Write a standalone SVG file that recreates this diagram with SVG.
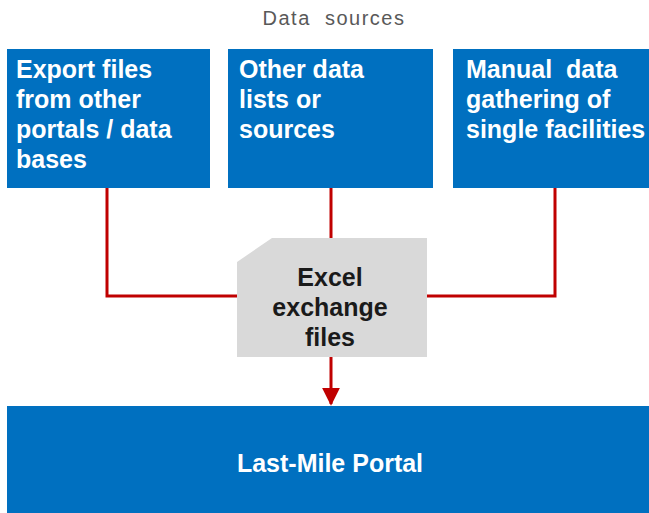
<svg xmlns="http://www.w3.org/2000/svg" width="649" height="513" viewBox="0 0 649 513">
  <style>
    text { white-space: pre; }
    .box { fill: #0070C0; }
    .src { font-family: "Liberation Sans", Arial, sans-serif; font-size: 25px; font-weight: bold; fill: #ffffff; }
    .hub { font-family: "Liberation Sans", Arial, sans-serif; font-size: 25px; font-weight: bold; fill: #1a1a1a; text-anchor: middle; }
    .title { font-family: "Liberation Sans", Arial, sans-serif; font-size: 20px; letter-spacing: 1.5px; fill: #595959; text-anchor: middle; }
    .link { fill: none; stroke: #C00000; stroke-width: 3; }
  </style>
  <defs>
    <marker id="arrow" viewBox="0 0 10 10" refX="9" refY="5" markerWidth="6" markerHeight="6" orient="auto" markerUnits="strokeWidth">
      <path d="M0,0 L10,5 L0,10 Z" fill="#C00000"/>
    </marker>
  </defs>

  <text class="title" x="334" y="25" xml:space="preserve">Data  sources</text>

  <g id="connectors">
    <polyline class="link" points="107,188 107,296 237,296"/>
    <line class="link" x1="331" y1="188" x2="331" y2="238"/>
    <polyline class="link" points="555,188 555,296 427,296"/>
    <line class="link" x1="331" y1="357" x2="331" y2="404" marker-end="url(#arrow)"/>
  </g>

  <g id="export-files">
    <rect class="box" x="7" y="49" width="203" height="139"/>
    <text class="src" x="16" y="78">Export files</text>
    <text class="src" x="16" y="108">from other</text>
    <text class="src" x="16" y="138">portals / data</text>
    <text class="src" x="16" y="168">bases</text>
  </g>

  <g id="other-lists">
    <rect class="box" x="228" y="49" width="205" height="139"/>
    <text class="src" x="239" y="78">Other data</text>
    <text class="src" x="239" y="108">lists or</text>
    <text class="src" x="239" y="138">sources</text>
  </g>

  <g id="manual-gathering">
    <rect class="box" x="453" y="49" width="196" height="139"/>
    <text class="src" x="466" y="78" xml:space="preserve">Manual  data</text>
    <text class="src" x="466" y="108">gathering of</text>
    <text class="src" x="466" y="138">single facilities</text>
  </g>

  <g id="excel-files">
    <path d="M272,238 L427,238 L427,357 L237,357 L237,262 Z" fill="#D9D9D9"/>
    <text class="hub" x="330" y="286">Excel</text>
    <text class="hub" x="330" y="316">exchange</text>
    <text class="hub" x="330" y="346">files</text>
  </g>

  <g id="portal">
    <rect class="box" x="7" y="406" width="642" height="107"/>
    <text class="src" x="330" y="472" text-anchor="middle">Last-Mile Portal</text>
  </g>
</svg>
